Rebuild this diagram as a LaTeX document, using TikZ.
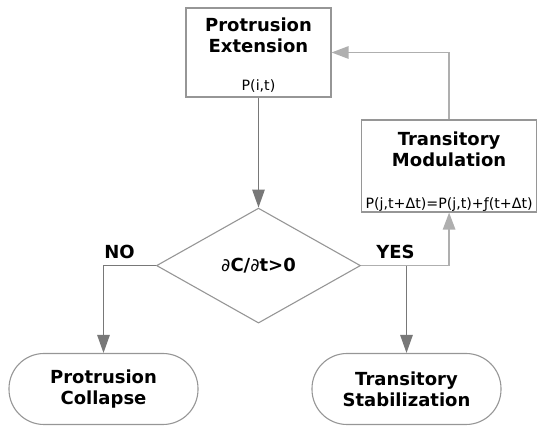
\documentclass[tikz,border=0pt]{standalone}
\usepackage{fontspec}
\setmainfont{DejaVu Sans}
\usepackage{tikz}
\usetikzlibrary{positioning}
\usetikzlibrary{shapes.geometric}
\usetikzlibrary{arrows.meta}

\definecolor{edgegray}{RGB}{120,120,120}
\definecolor{feedgray}{RGB}{175,175,175}
\definecolor{framegray}{RGB}{150,150,150}

\tikzset{
  boldtxt/.style={font=\bfseries\fontsize{18}{21}\selectfont},
  smalltxt/.style={font=\fontsize{14.2}{16}\selectfont, inner sep=0pt},
  proc/.style={draw=framegray, line width=1.1pt, rectangle, align=center,
    inner sep=0pt, text depth=34pt, boldtxt},
  decision/.style={draw=framegray, line width=1.1pt, diamond,
    minimum width=204pt, minimum height=115pt, inner sep=0pt, boldtxt},
  terminal/.style={draw=framegray, line width=1.1pt, rectangle, rounded corners=35pt,
    minimum width=189pt, minimum height=71pt, align=center, boldtxt},
  flow/.style={draw=edgegray, line width=1.3pt, -{Triangle[length=18pt,width=12.5pt]}},
  feedback/.style={draw=feedgray, line width=1.3pt, -{Triangle[length=17pt,width=12.5pt]}},
}

\begin{document}
\begin{tikzpicture}[x=1pt, y=1pt]
    \useasboundingbox (0,0) rectangle (538,427);

        % Define nodes
        \node[proc, minimum width=145pt, minimum height=89pt] (ext) at (258.5,374.5) {Protrusion\\Extension};
        \node[smalltxt, anchor=base] (extp) at ([yshift=7pt]ext.south) {P(i,t)};
        \node[decision, below=110pt of ext] (dec) {{\mdseries ∂}C/{\mdseries ∂}t>0};
        \node[proc, minimum width=175pt, minimum height=92pt, anchor=south west] (mod)
            at ([yshift=53pt]dec.east) {Transitory\\Modulation};
        \node[smalltxt, anchor=base] (modp) at ([yshift=4pt]mod.south) {P(j,t+Δt)=P(j,t)+ƒ(t+Δt)};
        \node[terminal] (col) at (103.5,38) {Protrusion\\Collapse};
        \node[terminal] (stab) at (406.5,38) {Transitory\\Stabilization};
        \node[boldtxt, inner sep=0pt, above left=7pt and 21pt of dec.west, anchor=base east] (no) {NO};
        \node[boldtxt, inner sep=0pt, above right=7pt and 15pt of dec.east, anchor=base west] (yes) {YES};
        \coordinate (yesdrop) at (dec.east -| stab.north);

        % Connect the nodes
        \draw[feedback] (dec.east) -| (mod.south);
        \draw[feedback] (mod.north) |- (ext.east);
        \draw[flow] (ext) -- (dec);
        \draw[flow] (dec.west) -| (col.north);
        \draw[flow] (yesdrop) -- (stab.north);
      \end{tikzpicture}
\end{document}
